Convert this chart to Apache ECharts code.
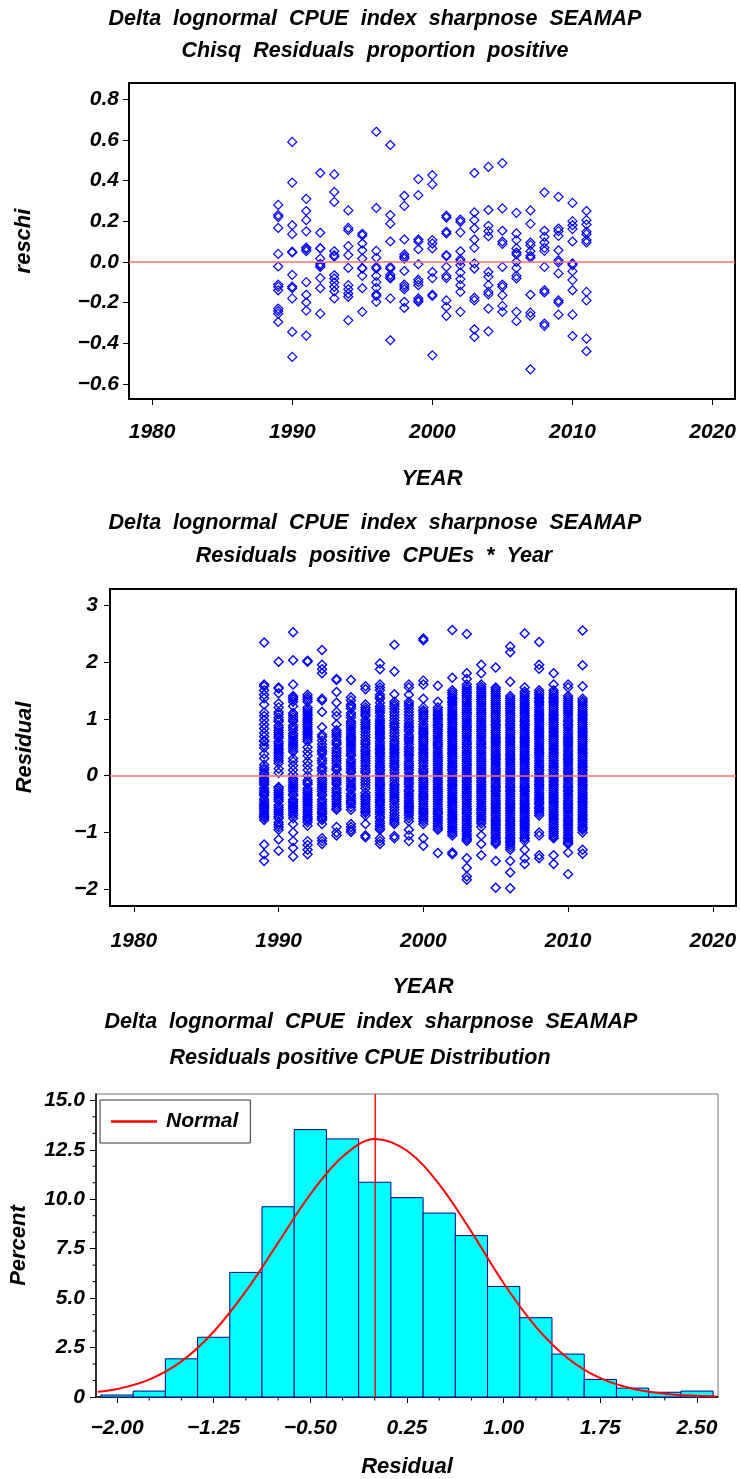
<!DOCTYPE html>
<html>
<head>
<meta charset="utf-8">
<script src="https://cdn.jsdelivr.net/npm/echarts@6/dist/echarts.min.js"></script>
<style>html,body{margin:0;padding:0;background:#fff;}#c{width:741px;height:1479px;}</style>
</head>
<body>
<div id="c"></div>
<script>
// ---------- DATA ----------
const years = [1989,1990,1991,1992,1993,1994,1995,1996,1997,1998,1999,2000,2001,2002,2003,2004,2005,2006,2007,2008,2009,2010,2011];

// Chisq residuals (proportion positive), one list per year
const chisqResiduals = [
  [0.28,0.23,0.22,0.167,0.039,-0.023,-0.112,-0.123,-0.14,-0.23,-0.242,-0.255,-0.296],
  [0.59,0.39,0.18,0.136,0.05,0.046,-0.064,-0.122,-0.13,-0.18,-0.345,-0.468],
  [0.31,0.25,0.205,0.15,0.07,0.062,0.053,-0.1,-0.162,-0.2,-0.24,-0.363],
  [0.437,0.143,0.067,0.066,0.016,-0.01,-0.017,-0.025,-0.08,-0.13,-0.255],
  [0.43,0.344,0.295,0.052,0.033,0.025,-0.066,-0.082,-0.102,-0.123,-0.145,-0.18],
  [0.253,0.167,0.156,0.077,0.033,-0.03,-0.115,-0.135,-0.156,-0.172,-0.288],
  [0.138,0.13,0.09,0.057,0.016,-0.03,-0.033,-0.069,-0.13,-0.246],
  [0.64,0.265,0.054,0.02,-0.025,-0.033,-0.069,-0.1,-0.128,-0.16,-0.168,-0.197],
  [0.575,0.23,0.188,0.1,-0.025,-0.033,-0.064,-0.075,-0.082,-0.18,-0.386],
  [0.325,0.275,0.11,0.036,0.025,0.016,-0.045,-0.112,-0.123,-0.135,-0.197,-0.227],
  [0.407,0.328,0.11,0.1,0.062,-0.012,-0.088,-0.1,-0.115,-0.18,-0.19,-0.197],
  [0.427,0.381,0.107,0.09,0.066,-0.05,-0.08,-0.162,-0.168,-0.46],
  [0.227,0.218,0.148,0.14,0.033,0.028,-0.025,-0.069,-0.08,-0.19,-0.222,-0.266],
  [0.208,0.197,0.145,0.052,0.013,0.003,-0.016,-0.053,-0.085,-0.115,-0.148,-0.246],
  [0.437,0.243,0.205,0.164,0.11,0.069,-0.008,-0.033,-0.177,-0.19,-0.332,-0.37],
  [0.467,0.255,0.177,0.151,0.126,-0.05,-0.074,-0.115,-0.148,-0.16,-0.23,-0.342],
  [0.486,0.263,0.153,0.1,0.088,-0.025,-0.112,-0.123,-0.164,-0.217,-0.246],
  [0.241,0.14,0.107,0.066,0.046,0.036,0,-0.03,-0.069,-0.082,-0.246,-0.292],
  [0.253,0.187,0.095,0.082,0.052,0.03,0.02,-0.162,-0.25,-0.266,-0.529],
  [0.342,0.153,0.123,0.095,0.069,0.054,-0.025,-0.14,-0.151,-0.304,-0.315],
  [0.32,0.164,0.151,0.128,0.057,0.008,-0.003,-0.057,-0.19,-0.2,-0.26],
  [0.29,0.2,0.18,0.161,0.1,-0.008,-0.016,-0.046,-0.09,-0.14,-0.26,-0.365],
  [0.25,0.205,0.184,0.148,0.136,0.107,0.095,-0.148,-0.19,-0.378,-0.44]
];

// Residuals of positive CPUEs, one list per year (outliers and column points)
const positiveResiduals = [
  [2.34,1.6,1.57,1.42,1.36,1.11,0.98,0.9,0.83,0.75,0.69,0.6,0.54,0.49,0.3,0.19,0.14,0.1,0.02,-0.04,-0.1,-0.16,-0.22,-0.29,-0.35,-0.41,-0.45,-0.49,-0.55,-0.62,-0.66,-0.69,-0.74,-0.78,-1.21,-1.38,-1.5],
  [2.0,1.55,1.53,1.27,1.2,1.12,1.02,0.95,0.88,0.8,0.72,0.66,0.6,0.52,0.45,0.38,0.3,0.22,0.12,0.05,-0.2,-0.22,-0.3,-0.38,-0.45,-0.52,-0.6,-0.68,-0.75,-0.82,-0.9,-0.95,-1.12,-1.32],
  [2.52,2.03,1.6,1.4,1.37,1.3,1.22,1.1,1.02,0.95,0.88,0.8,0.74,0.66,0.58,0.5,0.42,0.3,0.25,0.18,0.1,0.02,-0.05,-0.12,-0.2,-0.28,-0.35,-0.42,-0.48,-0.55,-0.62,-0.7,-0.75,-0.85,-1.0,-1.15,-1.27,-1.42],
  [2.02,2.0,1.42,1.38,1.3,1.2,1.12,1.05,0.98,0.9,0.82,0.75,0.68,0.6,0.5,0.42,0.35,0.25,0.18,0.1,0.0,-0.08,-0.15,-0.22,-0.3,-0.38,-0.45,-0.52,-0.6,-0.68,-0.75,-0.82,-0.88,-1.15,-1.22,-1.3,-1.38],
  [2.21,1.95,1.87,1.8,1.35,1.32,1.12,0.85,0.72,0.68,0.55,0.45,0.42,0.3,0.22,0.15,0.08,0.02,-0.05,-0.12,-0.2,-0.28,-0.35,-0.42,-0.5,-0.58,-0.65,-0.72,-0.78,-0.85,-1.1,-1.15,-1.2],
  [1.7,1.68,1.47,1.28,1.12,1.05,0.9,0.8,0.72,0.62,0.55,0.48,0.4,0.3,0.22,0.12,0.1,0.02,-0.08,-0.15,-0.22,-0.3,-0.35,-0.42,-0.5,-0.58,-0.6,-0.9,-1.0,-1.05],
  [1.68,1.38,1.32,1.25,1.18,1.1,1.02,0.95,0.88,0.8,0.72,0.65,0.58,0.5,0.42,0.35,0.28,0.2,0.12,0.05,-0.02,-0.1,-0.18,-0.25,-0.32,-0.4,-0.47,-0.55,-0.6,-0.85,-0.9,-0.95,-0.99],
  [1.57,1.52,1.25,1.2,1.12,1.05,0.98,0.9,0.82,0.72,0.62,0.55,0.45,0.38,0.3,0.22,0.12,0.05,-0.02,-0.12,-0.22,-0.35,-0.38,-0.42,-0.5,-0.58,-0.65,-0.7,-0.85,-1.05,-1.08],
  [1.97,1.87,1.6,1.55,1.5,1.42,1.35,1.28,1.18,1.1,1.0,0.92,0.85,0.78,0.72,0.65,0.6,0.52,0.45,0.38,0.3,0.22,0.15,0.08,0.0,-0.08,-0.15,-0.22,-0.3,-0.38,-0.45,-0.52,-0.6,-0.68,-0.75,-0.8,-0.88,-0.95,-1.1,-1.15,-1.2],
  [2.3,1.83,1.43,1.3,1.22,1.12,1.02,0.92,0.85,0.75,0.7,0.6,0.52,0.45,0.38,0.3,0.22,0.15,0.05,-0.05,-0.15,-0.22,-0.3,-0.38,-0.45,-0.55,-0.65,-0.7,-0.78,-0.85,-1.06,-1.1],
  [1.6,1.55,1.42,1.3,1.22,1.12,1.02,0.92,0.85,0.78,0.68,0.6,0.5,0.42,0.35,0.25,0.18,0.1,0.0,-0.08,-0.15,-0.25,-0.32,-0.4,-0.48,-0.55,-0.62,-0.7,-0.75,-0.8,-0.95,-1.05,-1.15],
  [2.41,2.38,1.67,1.6,1.35,1.2,1.15,1.08,1.0,0.9,0.82,0.75,0.68,0.6,0.52,0.45,0.38,0.3,0.22,0.12,0.05,-0.05,-0.12,-0.2,-0.28,-0.35,-0.42,-0.5,-0.58,-0.65,-0.72,-0.8,-0.85,-1.1,-1.23],
  [1.58,1.3,1.2,1.12,1.05,0.98,0.9,0.85,0.78,0.7,0.62,0.55,0.48,0.4,0.32,0.25,0.18,0.1,0.02,-0.05,-0.12,-0.2,-0.28,-0.35,-0.42,-0.5,-0.58,-0.65,-0.72,-0.8,-0.88,-0.95,-1.36],
  [2.56,1.72,1.5,1.42,1.35,1.28,1.2,1.12,1.05,0.98,0.9,0.82,0.75,0.68,0.6,0.52,0.45,0.38,0.3,0.22,0.15,0.08,0.0,-0.08,-0.15,-0.22,-0.3,-0.38,-0.45,-0.52,-0.6,-0.68,-0.75,-0.82,-0.9,-0.98,-1.05,-1.35,-1.38],
  [2.49,1.8,1.7,1.6,1.52,1.45,1.38,1.3,1.22,1.15,1.08,1.0,0.92,0.85,0.78,0.7,0.62,0.55,0.48,0.4,0.32,0.25,0.18,0.1,0.02,-0.05,-0.12,-0.2,-0.28,-0.35,-0.42,-0.5,-0.58,-0.65,-0.72,-0.8,-0.88,-0.95,-1.02,-1.1,-1.15,-1.45,-1.62,-1.77,-1.83],
  [1.95,1.8,1.6,1.52,1.45,1.38,1.3,1.22,1.15,1.08,1.0,0.92,0.85,0.78,0.7,0.62,0.55,0.48,0.4,0.32,0.25,0.18,0.1,0.02,-0.05,-0.12,-0.2,-0.28,-0.35,-0.42,-0.5,-0.58,-0.65,-0.72,-0.8,-0.9,-1.05,-1.2,-1.4],
  [1.9,1.55,1.48,1.4,1.32,1.25,1.18,1.1,1.02,0.95,0.88,0.8,0.72,0.65,0.58,0.5,0.42,0.35,0.28,0.2,0.12,0.05,-0.02,-0.1,-0.18,-0.25,-0.32,-0.4,-0.48,-0.55,-0.62,-0.7,-0.78,-0.85,-0.92,-1.0,-1.08,-1.15,-1.2,-1.5,-1.97],
  [2.27,2.17,1.65,1.4,1.32,1.25,1.18,1.1,1.02,0.95,0.88,0.8,0.72,0.65,0.58,0.5,0.42,0.35,0.28,0.2,0.12,0.05,-0.02,-0.1,-0.18,-0.25,-0.32,-0.4,-0.48,-0.55,-0.62,-0.7,-0.78,-0.85,-0.92,-1.0,-1.08,-1.15,-1.22,-1.3,-1.5,-1.7,-1.98],
  [2.5,1.55,1.48,1.4,1.32,1.25,1.18,1.1,1.02,0.95,0.88,0.8,0.72,0.65,0.58,0.5,0.42,0.35,0.28,0.2,0.12,0.05,-0.02,-0.1,-0.18,-0.25,-0.32,-0.4,-0.48,-0.55,-0.62,-0.7,-0.78,-0.85,-0.92,-1.0,-1.08,-1.15,-1.3,-1.45,-1.55],
  [2.35,1.95,1.88,1.5,1.42,1.35,1.28,1.2,1.12,1.05,0.98,0.9,0.82,0.75,0.68,0.6,0.52,0.45,0.38,0.3,0.22,0.15,0.08,0.0,-0.08,-0.15,-0.22,-0.3,-0.38,-0.45,-0.5,-0.55,-0.62,-0.7,-1.0,-1.05,-1.4,-1.45],
  [1.8,1.6,1.5,1.42,1.35,1.28,1.2,1.12,1.05,0.98,0.9,0.82,0.75,0.68,0.6,0.52,0.45,0.38,0.3,0.22,0.15,0.08,0.0,-0.08,-0.15,-0.22,-0.3,-0.38,-0.45,-0.52,-0.6,-0.68,-0.75,-0.82,-0.9,-0.98,-1.05,-1.1,-1.4,-1.55],
  [1.6,1.55,1.4,1.32,1.25,1.18,1.1,1.02,0.95,0.88,0.8,0.72,0.65,0.58,0.5,0.42,0.35,0.28,0.2,0.12,0.05,-0.02,-0.1,-0.18,-0.25,-0.32,-0.4,-0.48,-0.55,-0.62,-0.7,-0.78,-0.85,-0.92,-1.0,-1.08,-1.15,-1.2,-1.35,-1.73],
  [2.55,1.94,1.57,1.35,1.28,1.2,1.12,1.05,0.98,0.9,0.82,0.75,0.68,0.6,0.52,0.45,0.38,0.3,0.22,0.15,0.08,0.0,-0.08,-0.15,-0.22,-0.3,-0.38,-0.45,-0.52,-0.6,-0.68,-0.75,-0.82,-0.9,-0.95,-1.0,-1.3,-1.37]
];

// Further points filling the dense core of each year's column
const positiveResidualsCore = [
  [1.5,1.25,1.05,0.62,0.38,0.05,-0.07,-0.13,-0.26,-0.32,-0.52,-0.58,-0.72],
  [1.45,1.08,0.98,0.84,0.76,0.69,0.56,0.48,0.41,0.34,0.26,-0.26,-0.34,-0.42,-0.56,-0.64,-0.72,-0.86],
  [1.34,1.06,0.98,0.84,0.7,0.62,0.54,0.46,-0.08,-0.16,-0.24,-0.32,-0.45,-0.52,-0.58,-0.66],
  [1.34,1.16,1.08,1.01,0.94,0.86,0.78,0.72,0.64,-0.12,-0.26,-0.34,-0.42,-0.48,-0.56,-0.64,-0.72,-0.78],
  [0.62,0.5,0.38,0.26,0.12,-0.08,-0.16,-0.24,-0.32,-0.46,-0.54,-0.62,-0.68,-0.75],
  [0.76,0.68,0.58,0.44,0.35,0.26,0.16,-0.04,-0.12,-0.26,-0.38,-0.46,-0.54],
  [1.22,1.06,0.92,0.84,0.76,0.68,0.62,0.54,0.46,0.38,0.24,0.16,0.08,-0.06,-0.14,-0.22,-0.36,-0.44,-0.5],
  [1.16,1.08,0.94,0.86,0.77,0.67,0.58,0.5,0.42,0.34,0.26,0.17,0.08,-0.07,-0.17,-0.3,-0.46,-0.54,-0.62],
  [1.38,1.22,1.14,1.05,0.96,0.88,0.82,0.75,0.68,0.56,0.48,0.41,0.34,0.26,0.18,0.11,0.04,-0.04,-0.12,-0.18,-0.26,-0.34,-0.42,-0.48,-0.56,-0.64,-0.72,-0.84,-0.92],
  [1.26,1.17,1.07,0.97,0.88,0.8,0.65,0.56,0.48,0.41,0.34,0.26,0.18,0.1,0.0,-0.1,-0.18,-0.26,-0.34,-0.42,-0.5,-0.6,-0.74,-0.82],
  [1.26,1.17,1.07,0.97,0.88,0.81,0.72,0.64,0.55,0.46,0.38,0.3,0.21,0.14,0.05,-0.04,-0.12,-0.2,-0.28,-0.36,-0.44,-0.52,-0.58,-0.66],
  [1.12,1.04,0.95,0.86,0.78,0.72,0.64,0.56,0.48,0.41,0.34,0.26,0.17,0.08,0.0,-0.08,-0.16,-0.24,-0.32,-0.38,-0.46,-0.54,-0.62,-0.68,-0.76],
  [1.16,1.08,1.01,0.94,0.88,0.81,0.74,0.66,0.58,0.52,0.44,0.36,0.28,0.21,0.14,0.06,-0.02,-0.09,-0.16,-0.24,-0.31,-0.38,-0.46,-0.54,-0.62,-0.68,-0.76,-0.84,-0.92],
  [1.46,1.38,1.31,1.24,1.16,1.08,1.01,0.94,0.86,0.78,0.71,0.64,0.56,0.48,0.41,0.34,0.26,0.18,0.11,0.04,-0.04,-0.11,-0.18,-0.26,-0.34,-0.41,-0.48,-0.56,-0.64,-0.71,-0.78,-0.86,-0.94,-1.01],
  [1.56,1.48,1.41,1.34,1.26,1.18,1.11,1.04,0.96,0.88,0.81,0.74,0.66,0.58,0.51,0.44,0.36,0.28,0.21,0.14,0.06,-0.02,-0.09,-0.16,-0.24,-0.31,-0.38,-0.46,-0.54,-0.61,-0.68,-0.76,-0.84,-0.91,-0.98,-1.06,-1.12],
  [1.56,1.48,1.41,1.34,1.26,1.18,1.11,1.04,0.96,0.88,0.81,0.74,0.66,0.58,0.51,0.44,0.36,0.28,0.21,0.14,0.06,-0.02,-0.09,-0.16,-0.24,-0.31,-0.38,-0.46,-0.54,-0.61,-0.68,-0.76,-0.84],
  [1.52,1.44,1.36,1.28,1.21,1.14,1.06,0.98,0.91,0.84,0.76,0.68,0.61,0.54,0.46,0.38,0.31,0.24,0.16,0.08,0.01,-0.06,-0.14,-0.21,-0.28,-0.36,-0.44,-0.51,-0.58,-0.66,-0.74,-0.81,-0.88,-0.96,-1.04,-1.11,-1.17],
  [1.36,1.28,1.21,1.14,1.06,0.98,0.91,0.84,0.76,0.68,0.61,0.54,0.46,0.38,0.31,0.24,0.16,0.08,0.01,-0.06,-0.14,-0.21,-0.28,-0.36,-0.44,-0.51,-0.58,-0.66,-0.74,-0.81,-0.88,-0.96,-1.04,-1.11,-1.18,-1.26],
  [1.44,1.36,1.28,1.21,1.14,1.06,0.98,0.91,0.84,0.76,0.68,0.61,0.54,0.46,0.38,0.31,0.24,0.16,0.08,0.01,-0.06,-0.14,-0.21,-0.28,-0.36,-0.44,-0.51,-0.58,-0.66,-0.74,-0.81,-0.88,-0.96,-1.04,-1.11],
  [1.46,1.38,1.31,1.24,1.16,1.08,1.01,0.94,0.86,0.78,0.71,0.64,0.56,0.48,0.41,0.34,0.26,0.18,0.11,0.04,-0.04,-0.11,-0.18,-0.26,-0.34,-0.41,-0.48,-0.58,-0.66],
  [1.46,1.38,1.31,1.24,1.16,1.08,1.01,0.94,0.86,0.78,0.71,0.64,0.56,0.48,0.41,0.34,0.26,0.18,0.11,0.04,-0.04,-0.11,-0.18,-0.26,-0.34,-0.41,-0.48,-0.56,-0.64,-0.71,-0.78,-0.86,-0.94,-1.01,-1.08],
  [1.36,1.28,1.21,1.14,1.06,0.98,0.91,0.84,0.76,0.68,0.61,0.54,0.46,0.38,0.31,0.24,0.16,0.08,0.01,-0.06,-0.14,-0.21,-0.28,-0.36,-0.44,-0.51,-0.58,-0.66,-0.74,-0.81,-0.88,-0.96,-1.04,-1.11,-1.18],
  [1.31,1.24,1.16,1.08,1.01,0.94,0.86,0.78,0.71,0.64,0.56,0.48,0.41,0.34,0.26,0.18,0.11,0.04,-0.04,-0.11,-0.18,-0.26,-0.34,-0.41,-0.48,-0.56,-0.64,-0.71,-0.78,-0.86,-0.92]
];

// Histogram of positive CPUE residuals (bin midpoints, percent)
const binMidpoints = [-2.0,-1.75,-1.5,-1.25,-1.0,-0.75,-0.5,-0.25,0.0,0.25,0.5,0.75,1.0,1.25,1.5,1.75,2.0,2.25,2.5];
const binPercent   = [0.1,0.3,1.93,3.02,6.3,9.62,13.52,13.05,10.86,10.08,9.3,8.16,5.59,4.01,2.17,0.89,0.45,0.24,0.3];

// Fitted normal curve
const normalX   = [-2.15,-2.0,-1.75,-1.5,-1.25,-1.0,-0.75,-0.5,-0.25,0.0,0.25,0.5,0.75,1.0,1.25,1.5,1.75,2.0,2.25,2.5,2.65];
const normalPct = [0.26,0.40,0.88,1.80,3.30,5.35,7.80,10.25,12.15,13.05,12.45,10.75,8.35,5.75,3.55,1.95,0.95,0.42,0.17,0.06,0.03];
const referenceLineX = 0;

// Tick values
const yearTicks = [1980,1990,2000,2010,2020];
const reschiTicks = [-0.6,-0.4,-0.2,0,0.2,0.4,0.6,0.8];
const residTicks = [-2,-1,0,1,2,3];
const pctTicks = [0,2.5,5,7.5,10,12.5,15];
const pctMinorTicks = [0.833,1.667,3.333,4.167,5.833,6.667,8.333,9.167,10.833,11.667,13.333,14.167];
const histTicks = [-2.0,-1.25,-0.5,0.25,1.0,1.75,2.5];
const histMinorTicks = [-1.75,-1.5,-1.0,-0.75,-0.25,0.0,0.5,0.75,1.25,1.5,2.0,2.25];

// ---------- CHART ----------
const FONT = '"Liberation Sans", Arial, sans-serif';
const lbl = (size) => ({fontFamily: FONT, fontStyle: 'italic', fontWeight: 'bold', fontSize: size, color: '#000'});
const minus = s => s.replace('-', '\u2212');

function pairs(lists){
  const out = [];
  lists.forEach((vals, i) => vals.forEach(v => out.push([years[i], v])));
  return out;
}

const grids = [
  {left: 129, top: 83, width: 606, height: 316, show: true, borderColor: '#000', borderWidth: 2},
  {left: 110, top: 589, width: 626, height: 317, show: true, borderColor: '#000', borderWidth: 2},
  {left: 95, top: 1094, width: 623, height: 304, show: true, borderColor: '#777', borderWidth: 1}
];

function yearAxis(gi, gap, margin){
  return {
    type: 'value', gridIndex: gi, min: 1978.35, max: 2021.6,
    axisLine: {show: true, onZero: false, lineStyle: {color: '#000', width: 2}},
    axisTick: {show: true, inside: false, length: 6, customValues: yearTicks, lineStyle: {color: '#000', width: 1}},
    axisLabel: {show: true, customValues: yearTicks, margin: margin, formatter: v => String(Math.round(v)), ...lbl(21)},
    splitLine: {show: false},
    name: 'YEAR', nameLocation: 'middle', nameGap: gap, nameTextStyle: lbl(22)
  };
}

function scatterStyle(bw){
  return {
    type: 'scatter', symbol: 'diamond', symbolSize: 9, silent: true,
    itemStyle: {color: 'rgba(0,0,0,0)', borderColor: '#0000FF', borderWidth: bw, opacity: 1}
  };
}
const zeroLine = {
  silent: true, symbol: 'none', label: {show: false}, animation: false,
  lineStyle: {color: '#FF7070', width: 1.5, type: 'solid'},
  data: [{yAxis: 0}]
};

const titleFont = 'italic bold 21.5px ' + FONT;
function titleText(x, y, t){
  return {type: 'text', x: x, y: y, silent: true,
    style: {text: t, font: titleFont, fill: '#000', align: 'center', verticalAlign: 'middle', textAlign: 'center', textVerticalAlign: 'middle'}};
}

const option = {
  animation: false,
  backgroundColor: '#fff',
  grid: grids,
  graphic: [
    titleText(375, 19, 'Delta  lognormal  CPUE  index  sharpnose  SEAMAP'),
    titleText(375, 51, 'Chisq  Residuals  proportion  positive'),
    titleText(375, 523, 'Delta  lognormal  CPUE  index  sharpnose  SEAMAP'),
    titleText(374, 556, 'Residuals  positive  CPUEs  *  Year'),
    titleText(371, 1022, 'Delta  lognormal  CPUE  index  sharpnose  SEAMAP'),
    titleText(360, 1058, 'Residuals positive CPUE Distribution')
  ],
  legend: {
    data: [{name: 'Normal', icon: 'rect'}], left: 100, top: 1100, orient: 'horizontal',
    itemWidth: 46, itemHeight: 2.5, itemGap: 10,
    borderColor: '#333', borderWidth: 1, padding: [11, 12, 11, 11],
    textStyle: {fontFamily: FONT, fontStyle: 'italic', fontWeight: 'bold', fontSize: 21, color: '#000', padding: [0, 0, 0, 4]},
    selectedMode: false
  },
  xAxis: [
    yearAxis(0, 69, 23),
    yearAxis(1, 70, 25),
    {
      type: 'value', gridIndex: 2, min: -2.163, max: 2.663,
      axisLine: {show: true, onZero: false, lineStyle: {color: '#000', width: 1.5}},
      axisTick: {show: true, inside: false, length: 6, customValues: histTicks, lineStyle: {color: '#000', width: 1}},
      axisLabel: {show: true, customValues: histTicks, margin: 21, formatter: v => minus(v.toFixed(2)), ...lbl(21)},
      splitLine: {show: false},
      name: 'Residual', nameLocation: 'middle', nameGap: 59, nameTextStyle: lbl(22)
    }
  ],
  yAxis: [
    {
      type: 'value', gridIndex: 0, min: -0.675, max: 0.88,
      axisLine: {show: true, onZero: false, lineStyle: {color: '#000', width: 2}},
      axisTick: {show: true, inside: false, length: 6, customValues: reschiTicks, lineStyle: {color: '#000', width: 1}},
      axisLabel: {show: true, customValues: reschiTicks, margin: 10, formatter: v => minus(v.toFixed(1)), ...lbl(21)},
      splitLine: {show: false},
      name: 'reschi', nameLocation: 'middle', nameGap: 94, nameTextStyle: lbl(22)
    },
    {
      type: 'value', gridIndex: 1, min: -2.29, max: 3.28,
      axisLine: {show: true, onZero: false, lineStyle: {color: '#000', width: 2}},
      axisTick: {show: true, inside: false, length: 6, customValues: residTicks, lineStyle: {color: '#000', width: 1}},
      axisLabel: {show: true, customValues: residTicks, margin: 12, formatter: v => minus(String(Math.round(v))), ...lbl(21)},
      splitLine: {show: false},
      name: 'Residual', nameLocation: 'middle', nameGap: 74, nameTextStyle: lbl(22)
    },
    {
      type: 'value', gridIndex: 2, min: 0, max: 15.32,
      axisLine: {show: true, onZero: false, lineStyle: {color: '#000', width: 1.5}},
      axisTick: {show: true, inside: false, length: 6, customValues: pctTicks, lineStyle: {color: '#000', width: 1}},
      axisLabel: {show: true, customValues: pctTicks, margin: 11, formatter: v => (v === 0 ? '0' : v.toFixed(1)), ...lbl(21)},
      splitLine: {show: false},
      name: 'Percent', nameLocation: 'middle', nameGap: 66, nameTextStyle: lbl(22)
    }
  ],
  series: [
    Object.assign(scatterStyle(1.2), {xAxisIndex: 0, yAxisIndex: 0, data: pairs(chisqResiduals), markLine: zeroLine}),
    Object.assign(scatterStyle(1.4), {xAxisIndex: 1, yAxisIndex: 1, data: pairs(positiveResiduals).concat(pairs(positiveResidualsCore)), markLine: zeroLine}),
    {
      type: 'custom', xAxisIndex: 2, yAxisIndex: 2, silent: true, z: 2,
      data: binMidpoints.map((m, i) => [m, binPercent[i]]),
      encode: {x: 0, y: 1},
      renderItem: function(params, api){
        const c = api.value(0), v = api.value(1);
        const p0 = api.coord([c - 0.125, v]);
        const p1 = api.coord([c + 0.125, 0]);
        return {type: 'rect', shape: {x: p0[0], y: p0[1], width: p1[0] - p0[0], height: p1[1] - p0[1]},
          style: {fill: '#00FFFF', stroke: '#00008B', lineWidth: 1}};
      }
    },
    {
      name: 'Normal', type: 'line', xAxisIndex: 2, yAxisIndex: 2, smooth: 0.35, symbol: 'none', silent: true, z: 4,
      data: normalX.map((x, i) => [x, normalPct[i]]),
      lineStyle: {color: '#FF0000', width: 2}, itemStyle: {color: '#FF0000'}
    },
    {
      // vertical reference line at residual 0
      type: 'custom', xAxisIndex: 2, yAxisIndex: 2, silent: true, z: 10, clip: false,
      data: [[referenceLineX, 0]], encode: {x: 0, y: 1},
      renderItem: function(params, api){
        const p = api.coord([api.value(0), 0]);
        const cs = params.coordSys;
        return {type: 'rect', z2: 100, shape: {x: Math.round(p[0]) - 0.5, y: cs.y, width: 1.4, height: cs.height},
          style: {fill: '#FF0000', stroke: null}};
      }
    },
    {
      // minor ticks below the histogram's x axis
      type: 'custom', xAxisIndex: 2, yAxisIndex: 2, silent: true, clip: false, z: 1,
      data: histMinorTicks.map(v => [v, 0]), encode: {x: 0, y: 1},
      renderItem: function(params, api){
        const p = api.coord([api.value(0), 0]);
        return {type: 'line', shape: {x1: p[0], y1: p[1], x2: p[0], y2: p[1] + 3.5}, style: {stroke: '#000', lineWidth: 1}};
      }
    },
    {
      // minor ticks left of the histogram's y axis
      type: 'custom', xAxisIndex: 2, yAxisIndex: 2, silent: true, clip: false, z: 1,
      data: pctMinorTicks.map(v => [0, v]), encode: {x: 0, y: 1},
      renderItem: function(params, api){
        const p = api.coord([0, api.value(1)]);
        const x0 = params.coordSys.x;
        return {type: 'line', shape: {x1: x0, y1: p[1], x2: x0 - 3.5, y2: p[1]}, style: {stroke: '#000', lineWidth: 1}};
      }
    }
  ]
};

const chart = echarts.init(document.getElementById('c'), null, {renderer: 'canvas'});
chart.setOption(option);
</script>
</body>
</html>
